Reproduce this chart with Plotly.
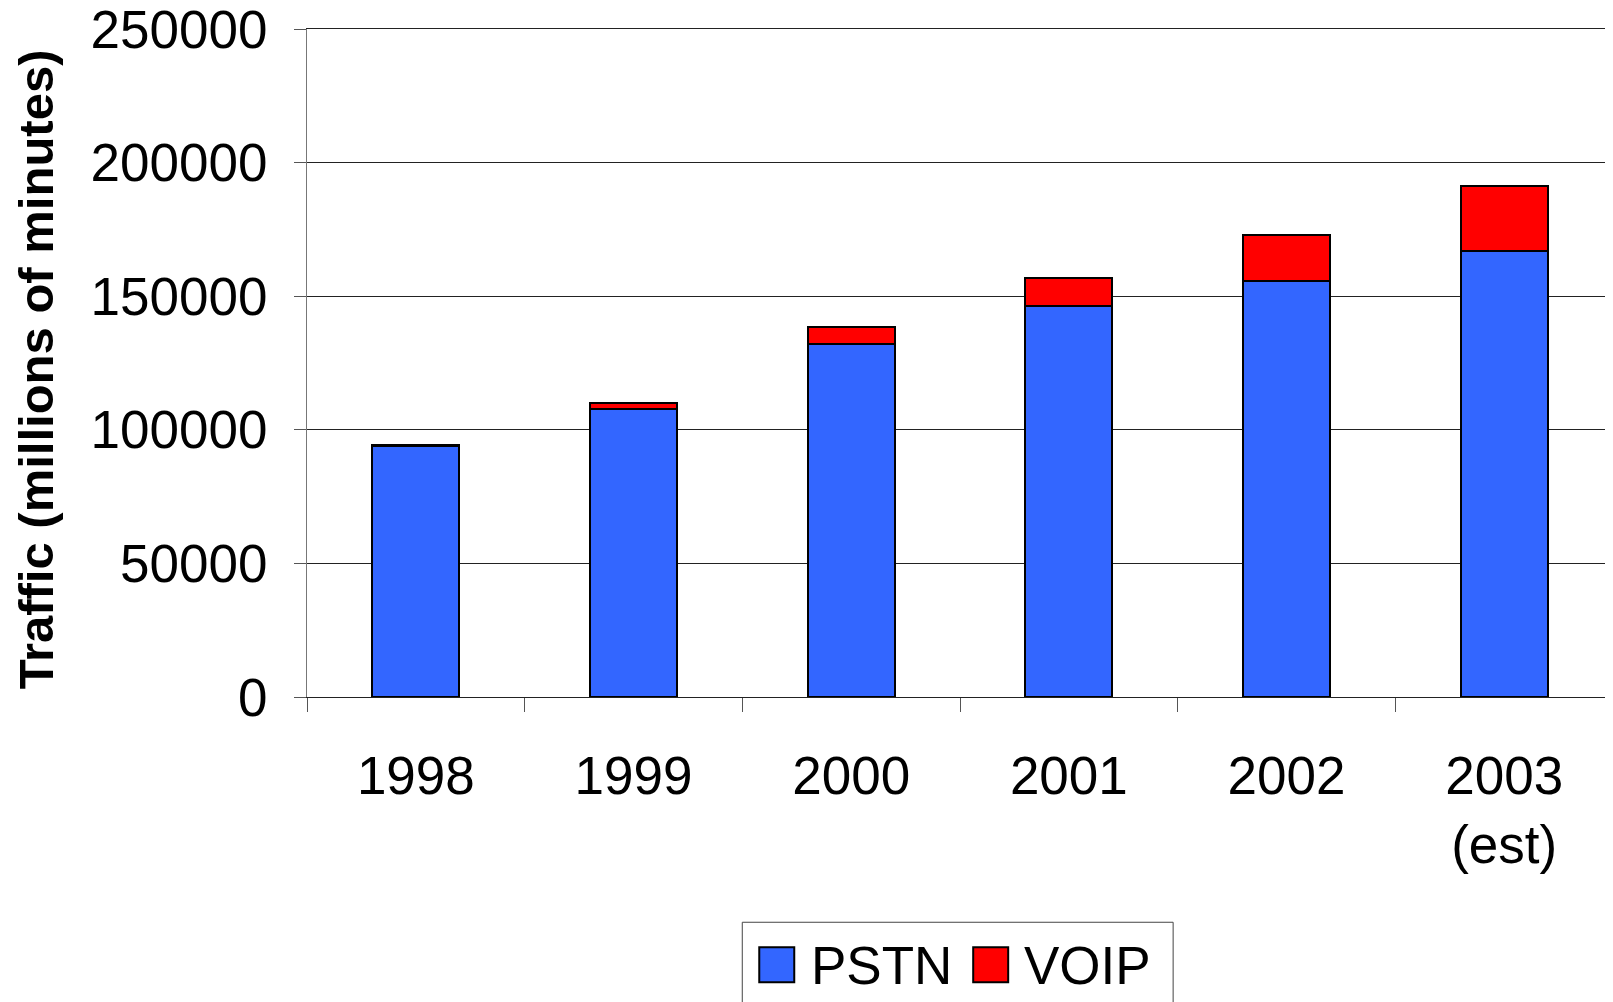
import plotly.graph_objects as go

categories = ["1998", "1999", "2000", "2001", "2002", "2003<br>(est)"]
pstn = [94000, 107900, 132200, 146400, 155700, 166800]
voip = [400, 2000, 6200, 10300, 17100, 24400]
y_ticks = [0, 50000, 100000, 150000, 200000, 250000]

OFF = 8  # default page body margin
W, H = 1613 - OFF, 1002 - OFF
# plot area in page pixels
PL, PR, PT, PB = 306.6, 1613, 28.8, 697.5
L, R, T, B = PL - OFF, W - (PR - OFF), PT - OFF, H - (PB - OFF)
PW = PR - PL
PH = PB - PT

def px(X):
    return (X - PL) / PW

def py(Y):
    return (PB - Y) / PH

FONT = "Liberation Sans, Arial, sans-serif"

fig = go.Figure()
fig.add_trace(go.Bar(x=categories, y=pstn, name="PSTN",
                     marker=dict(color="#3366FF", line=dict(color="black", width=2)),
                     showlegend=False))
fig.add_trace(go.Bar(x=categories, y=voip, name="VOIP",
                     marker=dict(color="#FF0000", line=dict(color="black", width=2)),
                     showlegend=False))

fig.update_layout(
    width=W, height=H, autosize=False,
    margin=dict(l=L, r=R, t=T, b=B, pad=0),
    barmode="stack", bargap=0.6,
    plot_bgcolor="white", paper_bgcolor="white",
    font=dict(family=FONT, size=53, color="black"),
    showlegend=False,
)
fig.update_xaxes(
    type="category", tickson="boundaries", ticks="outside", ticklen=14,
    tickcolor="#555", tickwidth=1, showline=True, linecolor="#222", linewidth=1,
    mirror=True, showgrid=False, tickfont=dict(size=53), ticklabelstandoff=32,
    automargin=False,
)
fig.update_yaxes(
    range=[0, 250000], tickvals=y_ticks, tickformat="d", ticks="outside", ticklen=12,
    tickcolor="#555", showline=True, linecolor="#777", linewidth=1, mirror=True,
    showgrid=True, gridcolor="#222", gridwidth=1, zeroline=False,
    tickfont=dict(size=53), ticklabelstandoff=16, ticklabeloverflow="allow",
    automargin=False,
)

# y-axis title
fig.add_annotation(text="<b>Traffic (millions of minutes)</b>", textangle=-90,
                   xref="paper", yref="paper", x=px(35), y=py(369),
                   xanchor="center", yanchor="middle", showarrow=False,
                   font=dict(size=49, family=FONT, color="black"))

# legend box
fig.add_shape(type="rect", xref="paper", yref="paper",
              x0=px(742), x1=px(1173), y0=py(1012), y1=py(923),
              line=dict(color="#444", width=1), fillcolor="white")
fig.add_shape(type="rect", xref="paper", yref="paper",
              x0=px(759), x1=px(794), y0=py(983), y1=py(948),
              line=dict(color="black", width=2), fillcolor="#3366FF")
fig.add_shape(type="rect", xref="paper", yref="paper",
              x0=px(973), x1=px(1008), y0=py(983), y1=py(948),
              line=dict(color="black", width=2), fillcolor="#FF0000")
fig.add_annotation(text="PSTN", xref="paper", yref="paper", x=px(809), y=py(966),
                   xanchor="left", yanchor="middle", showarrow=False,
                   font=dict(size=53, family=FONT, color="black"))
fig.add_annotation(text="VOIP", xref="paper", yref="paper", x=px(1022), y=py(966),
                   xanchor="left", yanchor="middle", showarrow=False,
                   font=dict(size=53, family=FONT, color="black"))

fig.write_html("out.html")
